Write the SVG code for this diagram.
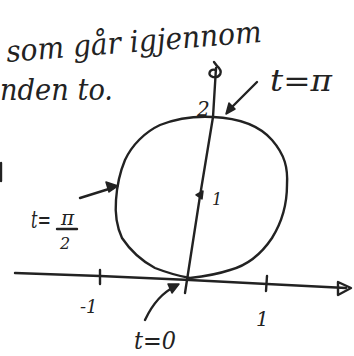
<svg xmlns="http://www.w3.org/2000/svg" width="354" height="356" viewBox="0 0 354 356">
<style>
.ln{fill:none;stroke:#222;stroke-width:2.4;stroke-linecap:round;stroke-linejoin:round}
.tx{font-family:"DejaVu Serif","Liberation Serif",serif;font-style:italic;fill:#222}
.ah{fill:#222;stroke:#222;stroke-width:1.5;stroke-linejoin:round}
</style>
<rect width="354" height="356" fill="#fff"/>
<g id="heading">
<text class="tx" x="7" y="62" font-size="30" transform="rotate(-4.5 7 62)" textLength="256" lengthAdjust="spacingAndGlyphs">som går igjennom</text>
<text class="tx" x="0" y="100" font-size="30" textLength="113" lengthAdjust="spacingAndGlyphs">nden to.</text>
</g>
<g id="connectors">
<path class="ln" d="M15,273 L100,276 L190,280 L267,284 L346,288"/>
<path class="ln" d="M338,282 L351,288 L338,295 Z"/>
<path class="ln" d="M100,270 L100,284"/>
<path class="ln" d="M267,276 L266,291"/>
<path class="ln" d="M185,293 L200,196 L213,117 L216,68"/>
<path class="ln" d="M216,70 C209,68 207,76 213,77 C220,78 224,72 217,66 L214,62"/>
<path class="ln" d="M257,82 L229,110"/>
<path class="ah" d="M226,114 L229,103 L235,109 Z"/>
<path class="ln" d="M80,198 L112,188"/>
<path class="ah" d="M118,186 L106,182 L109,192 Z"/>
<path class="ln" d="M145,320 C152,305 163,292 176,286"/>
<path class="ah" d="M179,284 L168,284 L172,293 Z"/>
<path class="ln" d="M1,163 L1,181"/>
</g>
<g id="circle">
<path class="ln" d="M213,117 C235,118 258,124 272,140 C285,155 288,168 287,185 C287,205 282,222 272,238 C260,256 245,266 230,270 C218,274 208,276 190,278 C178,276 168,273 155,268 C140,260 130,250 122,238 C116,225 115,212 116,200 C117,185 120,172 125,160 C132,145 145,132 160,125 C178,118 195,116 213,117 Z"/>
</g>
<g id="point-1">
<path class="ah" d="M196,195 L203,191 L202,199 Z"/>
<text class="tx" x="212" y="205" font-size="16">1</text>
</g>
<g id="labels">
<text class="tx" x="31" y="228" font-size="24" textLength="20" lengthAdjust="spacingAndGlyphs">t=</text>
<text class="tx" x="197" y="116" font-size="20">2</text>
<text class="tx" x="270" y="91" font-size="30" textLength="62" lengthAdjust="spacingAndGlyphs">t=π</text>
<text class="tx" x="61" y="225" font-size="20">π</text>
<path class="ln" d="M57,229 L77,229"/>
<text class="tx" x="60" y="249" font-size="16">2</text>
<text class="tx" x="80" y="313" font-size="18">-1</text>
<text class="tx" x="256" y="326" font-size="20">1</text>
<text class="tx" x="134" y="349" font-size="24" textLength="42" lengthAdjust="spacingAndGlyphs">t=0</text>
</g>
</svg>
